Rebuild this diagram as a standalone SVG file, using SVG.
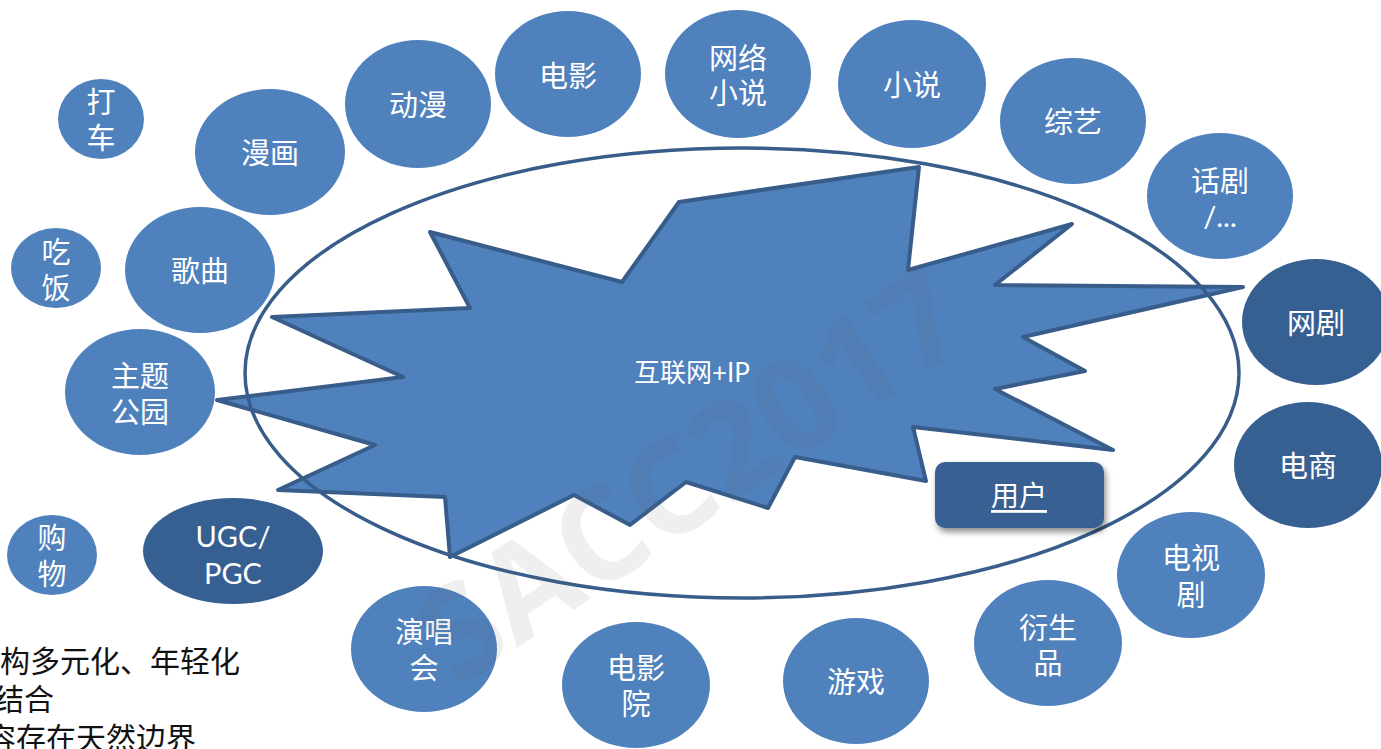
<svg xmlns="http://www.w3.org/2000/svg" width="1381" height="749" viewBox="0 0 1381 749">
<defs>
<style>
.lt{fill:#4f81bd;}
.dk{fill:#376092;}
.lbl{font-family:"Lato","Noto Sans CJK SC",sans-serif;font-size:29px;fill:#ffffff;text-anchor:middle;dominant-baseline:central;}
.note{font-family:"Noto Sans CJK SC",sans-serif;font-size:30px;fill:#111111;}
</style>
<filter id="sh" x="-20%" y="-20%" width="150%" height="170%">
<feDropShadow dx="2" dy="4" stdDeviation="3" flood-color="#000" flood-opacity="0.45"/>
</filter>
</defs>
<rect width="1381" height="749" fill="#ffffff"/>
<g id="star">
<polygon points="430,232 622,282 679,202 919,167 908,270 1072,224 995,285 1243,287 1023,337 1085,371 995,389 1113,450 913,427 926,481 795,457 768,508 686,482 630,525 574,495 450,557 445,497 278,490 375,445 217,400 403,377 272,317 470,308" fill="#4f81bd" stroke="#385d8a" stroke-width="4" stroke-linejoin="round"/>
<text class="lbl" x="692" y="372" style="font-size:26px">互联网+IP</text>
</g>
<g id="connectors">
<ellipse cx="742" cy="373" rx="497" ry="225" fill="none" stroke="#385d8a" stroke-width="3.5"/>
</g>
<g id="n-dache"><ellipse class="lt" cx="101" cy="119" rx="43" ry="40"/><text class="lbl" x="101" y="101">打</text><text class="lbl" x="101" y="137">车</text></g>
<g id="n-chifan"><ellipse class="lt" cx="56" cy="268" rx="45" ry="40"/><text class="lbl" x="56" y="251">吃</text><text class="lbl" x="56" y="287">饭</text></g>
<g id="n-manhua"><ellipse class="lt" cx="270" cy="152" rx="75" ry="63"/><text class="lbl" x="270" y="152">漫画</text></g>
<g id="n-gequ"><ellipse class="lt" cx="200" cy="270" rx="75" ry="63"/><text class="lbl" x="200" y="270">歌曲</text></g>
<g id="n-zhuti"><ellipse class="lt" cx="140" cy="392" rx="75" ry="63"/><text class="lbl" x="140" y="375">主题</text><text class="lbl" x="140" y="411">公园</text></g>
<g id="n-gouwu"><ellipse class="lt" cx="52" cy="555" rx="45" ry="40"/><text class="lbl" x="52" y="537">购</text><text class="lbl" x="52" y="573">物</text></g>
<g id="n-ugc"><ellipse class="dk" cx="233" cy="551" rx="90" ry="53"/><text class="lbl" x="233" y="535">UGC/</text><text class="lbl" x="233" y="572">PGC</text></g>
<g id="n-dongman"><ellipse class="lt" cx="418" cy="104" rx="73" ry="64"/><text class="lbl" x="418" y="104">动漫</text></g>
<g id="n-dianying"><ellipse class="lt" cx="568" cy="74" rx="73" ry="63"/><text class="lbl" x="568" y="75">电影</text></g>
<g id="n-wangluo"><ellipse class="lt" cx="738" cy="74" rx="73" ry="64"/><text class="lbl" x="738" y="57">网络</text><text class="lbl" x="738" y="92">小说</text></g>
<g id="n-xiaoshuo"><ellipse class="lt" cx="912" cy="84" rx="74" ry="64"/><text class="lbl" x="912" y="84">小说</text></g>
<g id="n-zongyi"><ellipse class="lt" cx="1073" cy="121" rx="73" ry="63"/><text class="lbl" x="1073" y="121">综艺</text></g>
<g id="n-huaju"><ellipse class="lt" cx="1220" cy="196" rx="73" ry="63"/><text class="lbl" x="1220" y="180">话剧</text><text class="lbl" x="1220" y="215">/...</text></g>
<g id="n-wangju"><ellipse class="dk" cx="1316" cy="322" rx="74" ry="63"/><text class="lbl" x="1316" y="322">网剧</text></g>
<g id="n-dianshang"><ellipse class="dk" cx="1308" cy="465" rx="74" ry="63"/><text class="lbl" x="1308" y="465">电商</text></g>
<g id="n-dianshiju"><ellipse class="lt" cx="1191" cy="575" rx="74" ry="63"/><text class="lbl" x="1191" y="557">电视</text><text class="lbl" x="1191" y="594">剧</text></g>
<g id="n-yansheng"><ellipse class="lt" cx="1048" cy="643" rx="74" ry="63"/><text class="lbl" x="1048" y="627">衍生</text><text class="lbl" x="1048" y="662">品</text></g>
<g id="n-youxi"><ellipse class="lt" cx="856" cy="681" rx="73" ry="63"/><text class="lbl" x="856" y="681">游戏</text></g>
<g id="n-dianyingyuan"><ellipse class="lt" cx="636" cy="685" rx="74" ry="63"/><text class="lbl" x="636" y="667">电影</text><text class="lbl" x="636" y="703">院</text></g>
<g id="n-yanchanghui"><ellipse class="lt" cx="424" cy="649" rx="73" ry="63"/><text class="lbl" x="424" y="631">演唱</text><text class="lbl" x="424" y="667">会</text></g>
<g id="n-user"><rect x="935" y="462" width="169" height="66" rx="10" fill="#376092" filter="url(#sh)"/><text class="lbl" x="1019" y="495" text-decoration="underline" style="font-size:28px">用户</text></g>
<g id="watermark"><text x="0" y="0" transform="translate(688,472) rotate(-34)" text-anchor="middle" dominant-baseline="central" font-family="Open Sans, sans-serif" font-weight="bold" font-size="130" fill="#606060" fill-opacity="0.1">SACC2017</text></g>
<g id="notes">
<text class="note" x="0" y="672">构多元化、年轻化</text>
<text class="note" x="-6" y="710">结合</text>
<text class="note" x="-14" y="749">容存在天然边界</text>
</g>
</svg>
